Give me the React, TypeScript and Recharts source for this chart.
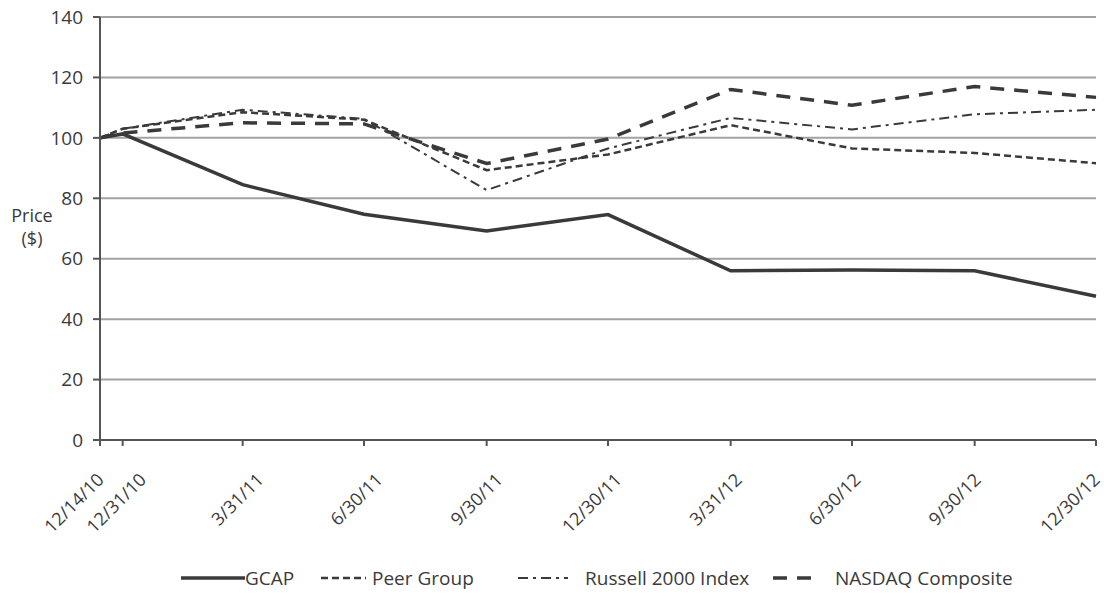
import React from "react";
import {
  LineChart,
  Line,
  XAxis,
  YAxis,
  CartesianGrid,
  Legend,
  Label,
} from "recharts";

const DATES = [
  "2010-12-14",
  "2010-12-31",
  "2011-03-31",
  "2011-06-30",
  "2011-09-30",
  "2011-12-30",
  "2012-03-31",
  "2012-06-30",
  "2012-09-30",
  "2012-12-30",
];
const DATE_LABELS = [
  "12/14/10",
  "12/31/10",
  "3/31/11",
  "6/30/11",
  "9/30/11",
  "12/30/11",
  "3/31/12",
  "6/30/12",
  "9/30/12",
  "12/30/12",
];
const GCAP = [100, 101.3, 84.5, 74.7, 69.2, 74.6, 56, 56.3, 56, 47.6];
const PEER_GROUP = [100, 103, 108.5, 106, 89.3, 94.5, 104.2, 96.5, 95, 91.6];
const RUSSELL_2000 = [100, 103, 109.3, 106.3, 82.7, 96.5, 106.6, 102.8, 107.8, 109.3];
const NASDAQ = [100, 101.6, 105, 104.6, 91.5, 99.6, 116, 110.8, 117, 113.4];
const Y_TICKS = [0, 20, 40, 60, 80, 100, 120, 140];

const DAY = 24 * 3600 * 1000;
const start = Date.parse(DATES[0]);
const days = DATES.map((d) => Math.round((Date.parse(d) - start) / DAY));
const lastDay = days[days.length - 1];

const data = DATES.map((_, i) => ({
  t: days[i],
  gcap: GCAP[i],
  peer: PEER_GROUP[i],
  russell: RUSSELL_2000[i],
  nasdaq: NASDAQ[i],
}));

const FONT = "'Open Sans', 'Liberation Sans', sans-serif";
const INK = "#3a3a3a";

// line look + legend placement
const SERIES = [
  { key: "gcap", name: "GCAP", dash: undefined, width: 3.5, icon: 64, gap: 0, left: 181 },
  { key: "peer", name: "Peer Group", dash: "7 4", width: 2.5, icon: 45, gap: 6, left: 321 },
  { key: "russell", name: "Russell 2000 Index", dash: "10 5 3 5", width: 2, icon: 50, gap: 17, left: 518 },
  { key: "nasdaq", name: "NASDAQ Composite", dash: "14 10", width: 3.5, icon: 48, gap: 14, left: 773 },
];

// rotated date labels; the original spreads them a little to the right
// on the left side so the first two don't collide
const XTick = (props: any) => {
  const { x, y, payload } = props;
  const idx = days.indexOf(payload.value);
  const spread = idx === 0 ? 0 : 20 * (1 - payload.value / lastDay);
  const ax = x + 5 + spread;
  const ay = y + 33;
  return (
    <text
      x={ax}
      y={ay}
      transform={`rotate(-45, ${ax}, ${ay})`}
      textAnchor="end"
      fontSize={18}
      fill={INK}
      fontFamily={FONT}
    >
      {DATE_LABELS[idx]}
    </text>
  );
};

const LegendContent = () => (
  <div
    style={{
      position: "relative",
      width: 1104,
      height: 36,
      fontFamily: FONT,
      fontSize: 19,
      color: INK,
    }}
  >
    {SERIES.map((s) => (
      <div
        key={s.key}
        style={{
          position: "absolute",
          left: s.left,
          top: 0,
          height: 36,
          display: "flex",
          alignItems: "center",
          whiteSpace: "nowrap",
        }}
      >
        <svg width={s.icon} height={10} style={{ marginRight: s.gap }}>
          <line
            x1={0}
            y1={5}
            x2={s.icon}
            y2={5}
            stroke={INK}
            strokeWidth={s.width}
            strokeDasharray={s.dash}
          />
        </svg>
        <span>{s.name}</span>
      </div>
    ))}
  </div>
);

const PriceLabel = () => (
  <text textAnchor="middle" fontSize={18} fill={INK} fontFamily={FONT}>
    <tspan x={32} y={222}>Price</tspan>
    <tspan x={32} y={245}>($)</tspan>
  </text>
);

export default function App() {
  return (
    <div style={{ position: "absolute", left: 0, top: 0, background: "#fff" }}>
      <LineChart
        width={1104}
        height={596}
        data={data}
        margin={{ top: 17, right: 8, left: 0, bottom: 0 }}
      >
        <CartesianGrid vertical={false} stroke="#a2a2a2" strokeWidth={2} />
        <XAxis
          dataKey="t"
          type="number"
          domain={[0, lastDay]}
          ticks={days}
          interval={0}
          tick={<XTick />}
          tickSize={6}
          stroke="#555"
          strokeWidth={2}
          height={120}
        />
        <YAxis
          domain={[0, 140]}
          ticks={Y_TICKS}
          width={100}
          tickSize={7}
          tickMargin={10}
          stroke="#555"
          strokeWidth={2}
          tick={{ fontSize: 19, fill: INK, fontFamily: FONT }}
        >
          <Label content={<PriceLabel />} />
        </YAxis>
        <Legend
          verticalAlign="bottom"
          height={36}
          wrapperStyle={{ left: 0, width: 1104 }}
          content={<LegendContent />}
        />
        {SERIES.map((s) => (
          <Line
            key={s.key}
            dataKey={s.key}
            name={s.name}
            type="linear"
            stroke={INK}
            strokeWidth={s.width}
            strokeDasharray={s.dash}
            dot={false}
            isAnimationActive={false}
          />
        ))}
      </LineChart>
    </div>
  );
}
